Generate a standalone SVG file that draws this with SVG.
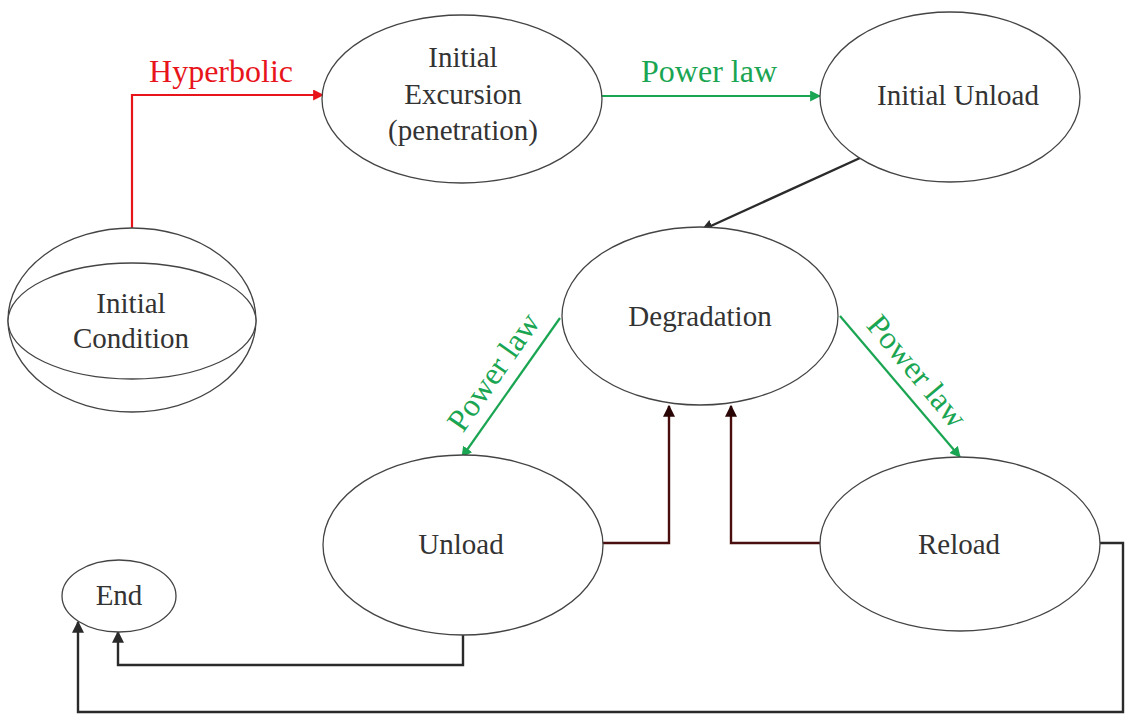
<svg xmlns="http://www.w3.org/2000/svg" width="1125" height="715" viewBox="0 0 1125 715">
<style>
.node{fill:#fff;stroke:#444;stroke-width:1.3}
.lbl{font-family:'Liberation Serif','DejaVu Serif',serif;font-size:29px;fill:#333;text-anchor:middle}
.edge{font-family:'Liberation Serif','DejaVu Serif',serif;font-size:32px;text-anchor:middle}
.red{stroke:#e8141b;fill:none;stroke-width:2.2}
.grn{stroke:#1aa552;fill:none;stroke-width:2.2}
.blk{stroke:#2a2a2a;fill:none;stroke-width:2.4}
.drd{stroke:#4a0e0e;fill:none;stroke-width:2.4}
</style>
<defs>
<marker id="mr" viewBox="0 0 10 10" refX="9" refY="5" markerWidth="5" markerHeight="5" orient="auto" markerUnits="strokeWidth"><path d="M0,0L10,5L0,10z" fill="#e8141b"/></marker>
<marker id="mg" viewBox="0 0 10 10" refX="9" refY="5" markerWidth="5" markerHeight="5" orient="auto" markerUnits="strokeWidth"><path d="M0,0L10,5L0,10z" fill="#1aa552"/></marker>
<marker id="mk" viewBox="0 0 10 10" refX="9" refY="5" markerWidth="5" markerHeight="5" orient="auto" markerUnits="strokeWidth"><path d="M0,0L10,5L0,10z" fill="#2a2a2a"/></marker>
<marker id="md" viewBox="0 0 10 10" refX="9" refY="5" markerWidth="5" markerHeight="5" orient="auto" markerUnits="strokeWidth"><path d="M0,0L10,5L0,10z" fill="#2a0505"/></marker>
</defs>
<rect width="1125" height="715" fill="#fff"/>
<g id="connectors">
<path class="red" d="M132,228 V95 H323" marker-end="url(#mr)"/>
<path class="grn" d="M602,96 H820" marker-end="url(#mg)"/>
<path class="blk" d="M860,158 L702,230" marker-end="url(#mk)"/>
<path class="grn" d="M560,318 L462,457" marker-end="url(#mg)"/>
<path class="grn" d="M840,316 L960,457" marker-end="url(#mg)"/>
<path class="drd" d="M602,543 H669 V406" marker-end="url(#md)"/>
<path class="drd" d="M820,543 H731 V406" marker-end="url(#md)"/>
<path class="blk" d="M463,635 V665 H118 V632" marker-end="url(#mk)"/>
<path class="blk" d="M1100,543 H1123 V712 H78 V622" marker-end="url(#mk)"/>
<text class="edge" x="221" y="82" fill="#e8141b">Hyperbolic</text>
<text class="edge" x="709" y="82" fill="#1aa552">Power law</text>
<text class="edge" transform="translate(502,378) rotate(-55)" fill="#1aa552">Power law</text>
<text class="edge" transform="translate(909,378) rotate(50)" fill="#1aa552">Power law</text>
</g>
<g id="initial-condition">
<ellipse class="node" cx="132" cy="320" rx="124" ry="92"/>
<ellipse class="node" cx="132" cy="321" rx="124" ry="58" fill="none"/>
<text class="lbl" x="131" y="313">Initial</text>
<text class="lbl" x="131" y="348">Condition</text>
</g>
<g id="initial-excursion">
<ellipse class="node" cx="462" cy="99" rx="140" ry="84"/>
<text class="lbl" x="463" y="67">Initial</text>
<text class="lbl" x="463" y="104">Excursion</text>
<text class="lbl" x="463" y="140">(penetration)</text>
</g>
<g id="initial-unload">
<ellipse class="node" cx="950" cy="97" rx="130" ry="85"/>
<text class="lbl" x="958" y="105">Initial Unload</text>
</g>
<g id="degradation">
<ellipse class="node" cx="700" cy="316" rx="138" ry="89"/>
<text class="lbl" x="700" y="326">Degradation</text>
</g>
<g id="unload">
<ellipse class="node" cx="463" cy="545" rx="140" ry="90"/>
<text class="lbl" x="461" y="554">Unload</text>
</g>
<g id="reload">
<ellipse class="node" cx="960" cy="544" rx="140" ry="87"/>
<text class="lbl" x="959" y="554">Reload</text>
</g>
<g id="end">
<ellipse class="node" cx="119" cy="596" rx="57" ry="36"/>
<text class="lbl" x="119" y="605">End</text>
</g>
</svg>
